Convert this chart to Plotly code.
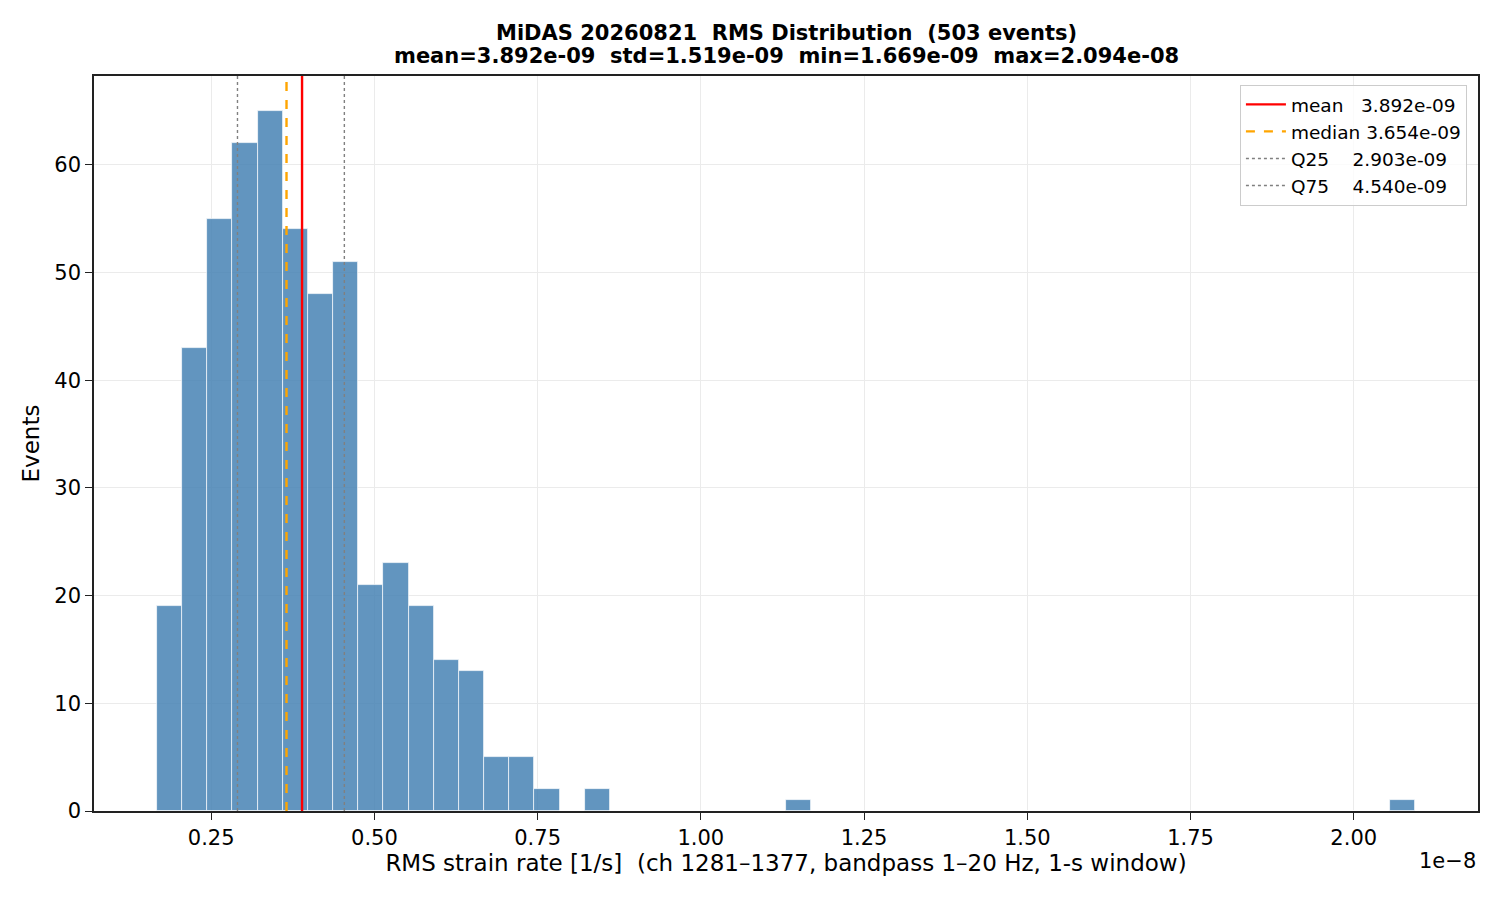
import numpy as np
import plotly.graph_objects as go

# histogram of per-event RMS strain rate (50 bins between min and max)
rms_min = 1.669e-09
rms_max = 2.094e-08
n_bins = 50
counts = [19, 43, 55, 62, 65, 54, 48, 51, 21, 23,
          19, 14, 13, 5, 5, 2, 0, 2, 0, 0,
          0, 0, 0, 0, 0, 1, 0, 0, 0, 0,
          0, 0, 0, 0, 0, 0, 0, 0, 0, 0,
          0, 0, 0, 0, 0, 0, 0, 0, 0, 1]

rms_mean = 3.892e-09
rms_std = 1.519e-09
rms_median = 3.654e-09
rms_q25 = 2.903e-09
rms_q75 = 4.540e-09
n_events = 503

xtick_vals = [0.25e-8, 0.50e-8, 0.75e-8, 1.00e-8, 1.25e-8, 1.50e-8, 1.75e-8, 2.00e-8]
xtick_text = ["0.25", "0.50", "0.75", "1.00", "1.25", "1.50", "1.75", "2.00"]
ytick_vals = [0, 10, 20, 30, 40, 50, 60]

edges = np.linspace(rms_min, rms_max, n_bins + 1)
centers = (edges[:-1] + edges[1:]) / 2
bw = edges[1] - edges[0]

span = rms_max - rms_min
xr = [rms_min - 0.05 * span, rms_max + 0.05 * span]
yr = [0, max(counts) * 1.05]

nb = "\u00a0"
FONT = "DejaVu Sans"

# page body has an 8px margin, so the figure is a bit smaller than the window
W, H = 1492, 884
ML, MR, MT, MB = 86, 22, 68, 81
plot_h = H - MT - MB

fig = go.Figure()
fig.add_trace(go.Bar(x=centers, y=counts, width=bw,
                     marker=dict(color="rgba(70,130,180,0.85)",
                                 line=dict(color="rgba(255,255,255,0.85)", width=0.8)),
                     showlegend=False, hoverinfo="x+y"))

lines = [
    ("mean" + nb * 3 + "%.3e" % rms_mean, rms_mean, "red", "solid", 2.4),
    ("median" + nb + "%.3e" % rms_median, rms_median, "orange", "dash", 2.4),
    ("Q25" + nb * 4 + "%.3e" % rms_q25, rms_q25, "gray", "dot", 1.4),
    ("Q75" + nb * 4 + "%.3e" % rms_q75, rms_q75, "gray", "dot", 1.4),
]
for name, v, col, dash, w in lines:
    fig.add_trace(go.Scatter(x=[v, v], y=yr, mode="lines", name=name,
                             line=dict(color=col, dash=dash, width=w)))

title1 = "<b>MiDAS 20260821" + nb * 2 + "RMS Distribution" + nb * 2 + "(%d events)</b>" % n_events
title2 = ("<b>mean=%.3e" % rms_mean + nb * 2 + "std=%.3e" % rms_std + nb * 2
          + "min=%.3e" % rms_min + nb * 2 + "max=%.3e</b>" % rms_max)

fig.update_layout(
    width=W, height=H,
    paper_bgcolor="white", plot_bgcolor="white",
    margin=dict(l=ML, r=MR, t=MT, b=MB),
    font=dict(family=FONT, size=21, color="black"),
    bargap=0,
    legend=dict(x=0.992, y=0.988, xanchor="right", yanchor="top",
                bgcolor="rgba(255,255,255,0.8)", bordercolor="#cccccc", borderwidth=1,
                font=dict(size=18.5), tracegroupgap=0, itemwidth=40),
    xaxis=dict(range=xr, tickvals=xtick_vals, ticktext=xtick_text,
               showgrid=True, gridcolor="#ebebeb", gridwidth=1,
               showline=True, linecolor="#222222", linewidth=1.5, mirror=True,
               ticks="outside", ticklen=7, tickcolor="#222222", zeroline=False,
               title=dict(text="RMS strain rate [1/s]" + nb * 2 + "(ch 1281–1377, bandpass 1–20 Hz, 1-s window)",
                          standoff=4, font=dict(size=23))),
    yaxis=dict(range=yr, tickvals=ytick_vals,
               showgrid=True, gridcolor="#ebebeb", gridwidth=1,
               showline=True, linecolor="#222222", linewidth=1.5, mirror=True,
               ticks="outside", ticklen=7, tickcolor="#222222", zeroline=False,
               title=dict(text="Events", standoff=8, font=dict(size=23))),
)

for txt, yc in [(title1, 25), (title2, 48)]:
    fig.add_annotation(text=txt, xref="paper", yref="paper", x=0.5,
                       y=1 + (MT - yc) / plot_h, xanchor="center", yanchor="middle",
                       showarrow=False, font=dict(family=FONT, size=21, color="black"))

fig.add_annotation(text="1e\u22128", xref="paper", yref="paper", x=1, y=-(853 - 803) / plot_h,
                   xanchor="right", yanchor="middle", showarrow=False,
                   font=dict(family=FONT, size=21, color="black"))

fig.write_html("out.html")
